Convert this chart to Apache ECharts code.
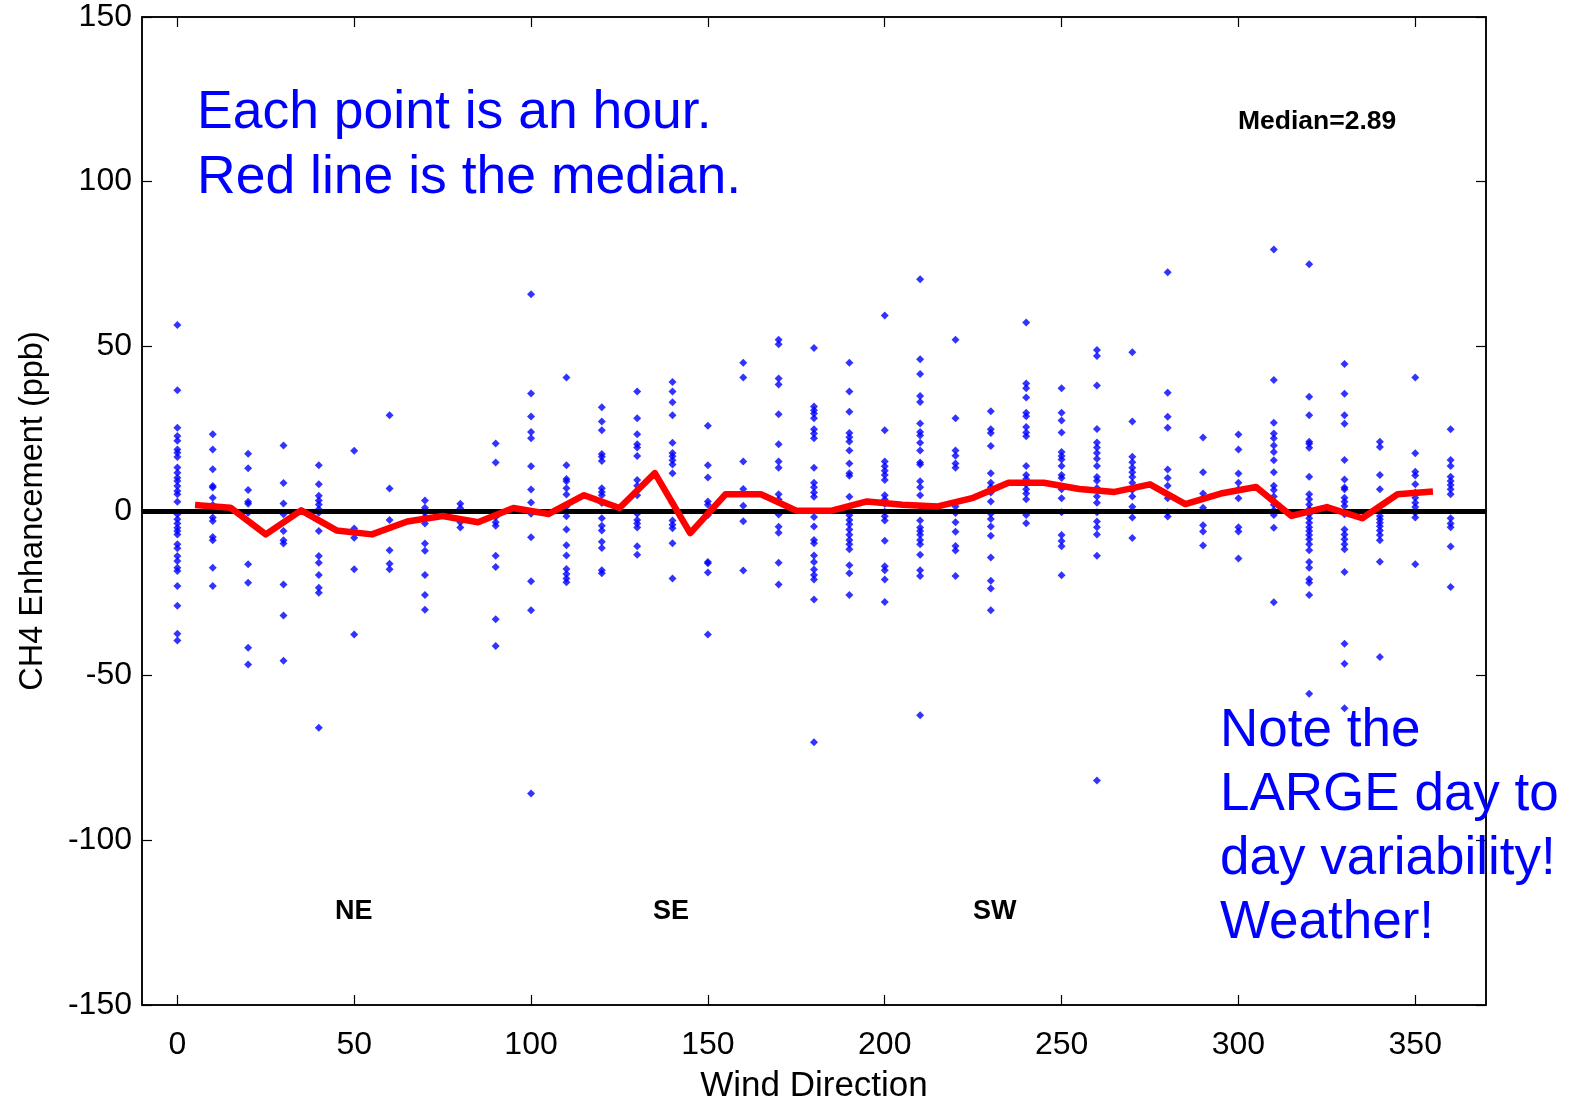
<!DOCTYPE html>
<html>
<head>
<meta charset="utf-8">
<script src="https://cdn.jsdelivr.net/npm/echarts@6/dist/echarts.min.js"></script>
<style>
html,body{margin:0;padding:0;background:#fff;}
#chart{width:1569px;height:1101px;}
</style>
</head>
<body>
<div id="chart"></div>
<script>
// Wind direction bins (degrees)
const directions = [0,10,20,30,40,50,60,70,80,90,100,110,120,130,140,150,160,170,180,190,200,210,220,230,240,250,260,270,280,290,300,310,320,330,340,350,360];
// Hourly CH4 enhancement (ppb) for each direction bin
const c0 = [56.5,36.7,25.3,22.8,21.3,18.7,17.7,16.4,13.2,11.6,10.1,9.1,7.6,6.1,5.1,2.8,-1.0,-2.5,-3.8,-5.1,-6.1,-7.1,-10.1,-11.3,-13.7,-15.2,-17.2,-18.2,-22.8,-28.8,-37.3,-39.3];
const c10 = [23.3,18.7,12.7,7.6,7.1,4.0,1.8,-2.0,-3.0,-7.9,-8.9,-17.2,-22.8];
const c20 = [17.4,13.0,6.4,2.8,2.2,-0.5,-16.2,-21.8,-41.5,-46.6];
const c30 = [19.9,8.5,2.3,-1.0,-6.1,-8.9,-9.9,-22.3,-31.7,-45.5];
const c40 = [13.9,8.1,4.6,3.2,2.0,0.5,-0.5,-6.1,-13.7,-15.7,-19.4,-23.3,-24.8,-65.8];
const c50 = [18.3,-5.3,-8.1,-17.7,-37.5];
const c60 = [29.1,6.8,-2.7,-11.9,-16.0,-17.7];
const c70 = [3.2,1.0,-0.5,-1.8,-3.8,-9.9,-12.1,-19.4,-25.5,-30.0];
const c80 = [2.2,0.8,-3.4,-5.0];
const c90 = [20.5,14.7,-1.8,-3.4,-4.5,-13.6,-17.0,-32.9,-41.0];
const c100 = [65.8,35.7,28.7,24.0,22.1,13.6,6.5,2.6,-0.8,-8.0,-21.3,-30.1,-85.8];
const c110 = [40.5,13.9,9.7,9.0,6.9,5.0,1.4,-1.6,-5.6,-10.4,-13.5,-17.6,-19.1,-20.5,-21.6];
const c120 = [31.5,27.2,24.5,17.3,16.5,15.2,6.9,5.8,4.8,2.4,-2.2,-4.5,-5.9,-9.3,-11.2,-18.0,-18.9];
const c130 = [36.3,28.2,23.3,20.3,19.3,16.7,9.4,7.7,4.8,-0.8,-2.7,-3.8,-5.0,-10.7,-13.3];
const c140 = [39.2,36.3,33.0,29.1,20.7,17.6,16.6,15.4,14.1,11.5,2.4,-2.9,-4.2,-5.2,-9.8,-20.5];
const c150 = [25.9,13.9,10.2,2.9,1.9,-1.3,-15.5,-15.9,-18.7,-37.5];
const c160 = [45.0,40.5,15.0,6.7,1.6,-3.1,-18.1];
const c170 = [52.0,50.6,40.2,38.4,29.4,20.3,15.0,13.1,5.1,3.5,-1.1,-4.8,-6.6,-15.7,-22.3];
const c180 = [49.5,31.7,30.6,29.6,28.2,24.8,23.5,22.1,13.1,8.6,7.2,5.6,4.3,-1.8,-4.7,-8.8,-9.8,-13.5,-15.5,-17.8,-19.4,-20.8,-26.9,-70.2];
const c190 = [45.0,36.3,30.1,23.7,22.4,21.1,18.4,14.4,11.5,10.7,4.3,1.4,-1.3,-2.7,-4.0,-5.6,-7.2,-8.8,-10.1,-11.6,-16.5,-18.9,-25.5];
const c200 = [59.4,24.5,15.0,13.6,12.2,10.9,9.4,4.8,3.5,2.2,-0.2,-1.6,-2.9,-9.0,-16.8,-18.0,-20.8,-27.6];
const c210 = [70.4,46.1,41.6,34.9,33.1,26.6,24.0,22.9,20.7,18.4,14.7,14.1,9.0,7.2,4.8,1.4,-2.9,-5.0,-6.1,-7.2,-8.8,-10.1,-13.3,-18.0,-19.7,-62.0];
const c220 = [52.0,28.2,18.4,16.8,14.4,13.1,1.4,-0.6,-3.4,-6.3,-10.6,-12.0,-19.7];
const c230 = [30.3,24.8,23.7,19.7,11.5,8.6,7.2,5.6,2.9,-0.8,-2.4,-4.7,-7.5,-14.1,-21.2,-23.5,-30.1];
const c240 = [57.2,38.7,37.3,34.5,29.8,28.8,25.5,23.8,22.7,13.7,10.9,9.7,8.1,6.6,5.3,3.6,-1.2,-3.7];
const c250 = [37.3,29.8,27.5,23.8,17.9,16.7,15.6,13.7,10.9,10.0,6.6,3.9,-0.4,-7.3,-9.1,-10.7,-19.5];
const c260 = [48.9,47.1,38.1,24.9,20.8,19.3,17.6,15.9,13.7,10.3,9.2,7.0,4.4,2.5,-0.4,-3.2,-4.9,-7.1,-13.6,-81.8];
const c270 = [48.2,27.2,16.5,14.8,13.1,11.8,10.3,8.6,6.4,4.4,1.3,-2.0,-8.2];
const c280 = [72.5,35.9,28.6,25.3,12.6,10.0,7.7,3.9,-0.4,-1.7];
const c290 = [22.3,11.8,5.3,3.9,1.0,-4.3,-6.2,-10.5];
const c300 = [23.2,18.7,11.4,8.6,6.6,3.9,-4.9,-6.2,-14.4];
const c310 = [79.4,39.8,26.8,23.5,22.1,19.9,17.9,15.4,11.8,7.7,6.4,4.4,1.9,0.2,-1.2,-5.1,-27.7];
const c320 = [74.9,34.7,29.1,21.0,20.4,19.2,10.4,5.1,3.6,2.0,0.5,-1.0,-2.2,-3.6,-4.9,-6.1,-7.3,-8.6,-10.1,-11.9,-15.5,-17.2,-20.7,-21.8,-25.5,-55.5];
const c330 = [44.6,35.6,29.1,26.5,15.5,9.6,7.1,6.6,4.0,2.8,1.5,-1.0,-5.6,-7.1,-8.6,-10.1,-11.6,-18.5,-40.3,-46.4,-59.9];
const c340 = [21.0,19.4,10.9,6.6,-1.5,-2.5,-3.6,-4.6,-5.9,-7.3,-8.9,-15.4,-44.3];
const c350 = [40.5,17.5,11.9,10.8,8.1,5.6,4.0,2.5,1.2,-0.5,-2.0,-16.2];
const c360 = [24.8,15.5,13.7,10.4,9.1,7.9,6.6,5.1,-2.2,-3.8,-4.9,-10.8,-23.1];
const columns = [c0,c10,c20,c30,c40,c50,c60,c70,c80,c90,c100,c110,c120,c130,c140,c150,c160,c170,c180,c190,c200,c210,c220,c230,c240,c250,c260,c270,c280,c290,c300,c310,c320,c330,c340,c350,c360];

// Running median (red line)
const medianX = [5,15,25,35,45,55,65,75,85,95,105,115,125,135,145,155,165,175,185,195,205,215,225,235,245,255,265,275,285,295,305,315,325,335,345,355];
const medianY = [1.8,1.0,-7.1,0.2,-5.9,-7.1,-3.2,-1.5,-3.4,0.9,-0.9,4.8,0.9,11.5,-6.7,5.1,5.1,0.1,0.1,2.9,1.9,1.4,4.0,8.6,8.6,6.7,5.8,8.1,2.1,5.3,7.3,-1.5,1.2,-2.2,5.1,5.9];

// Axis ticks
const xTicks = [0,50,100,150,200,250,300,350];
const yTicks = [-150,-100,-50,0,50,100,150];

const scatterData = [];
directions.forEach((d, i) => columns[i].forEach(v => scatterData.push([d, v])));
const medianData = medianX.map((x, i) => [x, medianY[i]]);

const FONT = "'Liberation Sans', Arial, Helvetica, sans-serif";
const chart = echarts.init(document.getElementById('chart'), null, {renderer: 'canvas'});

const baseX = {
  type: 'value', min: -10, max: 370,
  splitLine: {show: false},
  axisLine: {show: true, onZero: false, lineStyle: {color: '#000', width: 1.5}},
  axisTick: {show: true, inside: true, length: 10, customValues: xTicks, lineStyle: {color: '#000', width: 1.2}},
};
const baseY = {
  type: 'value', min: yTicks[0], max: yTicks[yTicks.length - 1], interval: 50,
  splitLine: {show: false},
  axisLine: {show: true, onZero: false, lineStyle: {color: '#000', width: 1.5}},
  axisTick: {show: true, inside: true, length: 10, lineStyle: {color: '#000', width: 1.2}},
};

chart.setOption({
  animation: false,
  backgroundColor: '#fff',
  grid: {left: 142, top: 17, right: 83, bottom: 96, containLabel: false, outerBoundsMode: 'none',
         show: true, borderColor: '#000', borderWidth: 1.5, backgroundColor: '#fff'},
  xAxis: [
    Object.assign({}, baseX, {
      position: 'bottom',
      axisLabel: {show: true, customValues: xTicks, margin: 24, fontSize: 32, color: '#000', fontFamily: FONT},
      name: 'Wind Direction', nameLocation: 'middle', nameGap: 64,
      nameTextStyle: {fontSize: 35, color: '#000', fontFamily: FONT}
    }),
    Object.assign({}, baseX, {position: 'top', axisLabel: {show: false}})
  ],
  yAxis: [
    Object.assign({}, baseY, {
      position: 'left',
      axisLabel: {show: true, margin: 10, fontSize: 32, color: '#000', fontFamily: FONT, padding: [4, 0, 0, 0]},
      name: 'CH4 Enhancement (ppb)', nameLocation: 'middle', nameGap: 92,
      nameTextStyle: {fontSize: 32.5, color: '#000', fontFamily: FONT}
    }),
    Object.assign({}, baseY, {position: 'right', axisLabel: {show: false}})
  ],
  series: [
    {
      type: 'scatter', xAxisIndex: 0, yAxisIndex: 0,
      data: scatterData, symbol: 'diamond', symbolSize: 8,
      itemStyle: {color: '#0000ff'}, silent: true, z: 2,
      markLine: {
        silent: true, symbol: 'none', label: {show: false},
        lineStyle: {color: '#000', width: 5, type: 'solid'},
        data: [{yAxis: 0}], z: 3
      }
    },
    {
      type: 'line', xAxisIndex: 0, yAxisIndex: 0,
      data: medianData, symbol: 'none', z: 5,
      lineStyle: {color: '#ff0000', width: 6.5, join: 'round'}, silent: true
    }
  ],
  graphic: [
    {type: 'text', left: 197, top: 86, style: {text: 'Each point is an hour.', font: '53.5px ' + FONT, fill: '#0000ff'}},
    {type: 'text', left: 197, top: 151, style: {text: 'Red line is the median.', font: '53.5px ' + FONT, fill: '#0000ff'}},
    {type: 'text', left: 1238, top: 108, style: {text: 'Median=2.89', font: 'bold 26.5px ' + FONT, fill: '#000'}},
    {type: 'text', left: 335, top: 898, style: {text: 'NE', font: 'bold 27px ' + FONT, fill: '#000'}},
    {type: 'text', left: 653, top: 898, style: {text: 'SE', font: 'bold 27px ' + FONT, fill: '#000'}},
    {type: 'text', left: 973, top: 898, style: {text: 'SW', font: 'bold 27px ' + FONT, fill: '#000'}},
    {type: 'text', left: 1220, top: 705, style: {text: 'Note the', font: '53px ' + FONT, fill: '#0000ff'}, z: 10},
    {type: 'text', left: 1220, top: 769, style: {text: 'LARGE day to', font: '53px ' + FONT, fill: '#0000ff'}, z: 10},
    {type: 'text', left: 1220, top: 833, style: {text: 'day variability!', font: '53px ' + FONT, fill: '#0000ff'}, z: 10},
    {type: 'text', left: 1220, top: 897, style: {text: 'Weather!', font: '53px ' + FONT, fill: '#0000ff'}, z: 10}
  ]
});
</script>
</body>
</html>
